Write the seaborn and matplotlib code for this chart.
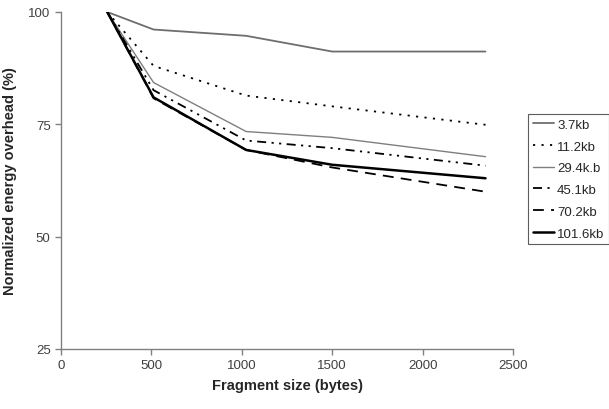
import matplotlib
matplotlib.use("Agg")
import matplotlib.pyplot as plt
import seaborn as sns
import pandas as pd

sns.set_theme(style="white")
plt.rcParams['font.family'] = ['Liberation Sans', 'DejaVu Sans']

fragment_sizes = [256, 512, 1024, 1500, 2348]
series_names = ["3.7kb", "11.2kb", "29.4k.b", "45.1kb", "70.2kb", "101.6kb"]
v_3_7 = [100, 96.1, 94.7, 91.2, 91.2]
v_11_2 = [100, 88.0, 81.4, 79.0, 74.9]
v_29_4 = [100, 84.3, 73.4, 72.1, 67.8]
v_45_1 = [100, 82.6, 71.4, 69.7, 65.8]
v_70_2 = [100, 80.8, 69.3, 65.4, 60.0]
v_101_6 = [100, 81.0, 69.3, 66.0, 63.0]
all_values = [v_3_7, v_11_2, v_29_4, v_45_1, v_70_2, v_101_6]

styles = [
    dict(color="#6e6e6e", lw=1.3, ls="-"),
    dict(color="black", lw=1.3, ls=(0, (1.2, 3.5))),
    dict(color="#7f7f7f", lw=1.0, ls="-"),
    dict(color="black", lw=1.3, ls=(0, (5, 3, 1.2, 3, 1.2, 3))),
    dict(color="black", lw=1.3, ls=(0, (6, 4))),
    dict(color="black", lw=1.8, ls="-"),
]

fig = plt.figure(figsize=(6.09, 4.10), dpi=100)
ax = fig.add_axes([61/609, 1-350/410, (513-61)/609, (350-13)/410])

for name, vals, st in zip(series_names, all_values, styles):
    df = pd.DataFrame({"x": fragment_sizes, "y": vals})
    sns.lineplot(data=df, x="x", y="y", ax=ax, label=name, color=st["color"],
                 linewidth=st["lw"], linestyle=st["ls"])

ax.set_xlim(0, 2500)
ax.set_ylim(25, 100)
ax.set_xticks([0, 500, 1000, 1500, 2000, 2500])
ax.set_yticks([25, 50, 75, 100])
for s in ["top", "right"]:
    ax.spines[s].set_visible(False)
for s in ["left", "bottom"]:
    ax.spines[s].set_color("#808080")
    ax.spines[s].set_linewidth(1.0)
ax.tick_params(axis="both", which="major", length=4, width=1, color="#808080",
               labelsize=9.5, labelcolor="#404040", direction="out",
               bottom=True, left=True)
ax.set_xlabel("Fragment size (bytes)", fontsize=10.5, fontweight="bold", labelpad=5)
ax.set_ylabel("Normalized energy overhead (%)", fontsize=10.5, fontweight="bold", labelpad=8)

leg = ax.legend(loc="upper left", bbox_to_anchor=(528/609, 1-115/410),
                bbox_transform=fig.transFigure, frameon=True, fancybox=False,
                fontsize=9.5, handlelength=1.6, handletextpad=0.25,
                labelspacing=0.72, borderpad=0.35, borderaxespad=0)
leg.get_frame().set_edgecolor("#333333")
leg.get_frame().set_linewidth(0.8)

fig.savefig("out.png", dpi=100, facecolor="white")
